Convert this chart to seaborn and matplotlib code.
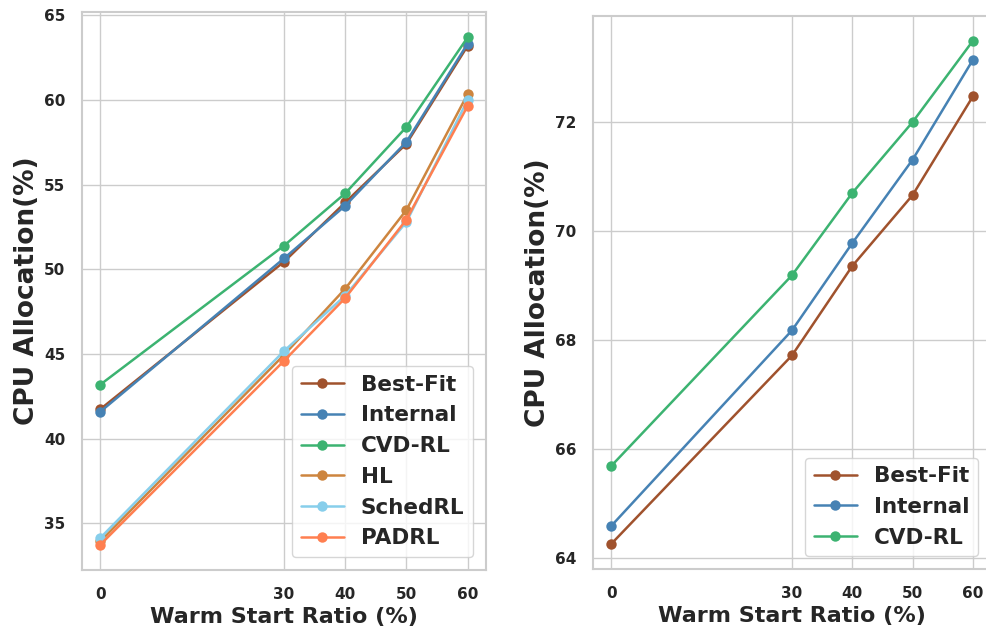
import matplotlib
matplotlib.use("Agg")
import matplotlib.pyplot as plt
import seaborn as sns
import pandas as pd

ratios = [0, 30, 40, 50, 60]

left_methods = ["Best-Fit", "Internal", "CVD-RL", "HL", "SchedRL", "PADRL"]
left_best_fit = [41.75, 50.45, 53.95, 57.42, 63.2]
left_internal = [41.6, 50.65, 53.76, 57.53, 63.33]
left_cvd_rl = [43.2, 51.4, 54.49, 58.41, 63.7]
left_hl = [33.95, 44.95, 48.86, 53.51, 60.35]
left_schedrl = [34.15, 45.18, 48.45, 52.8, 60.0]
left_padrl = [33.75, 44.6, 48.31, 52.94, 59.65]

right_methods = ["Best-Fit", "Internal", "CVD-RL"]
right_best_fit = [64.26, 67.72, 69.36, 70.66, 72.47]
right_internal = [64.59, 68.18, 69.78, 71.31, 73.14]
right_cvd_rl = [65.69, 69.19, 70.70, 72.0, 73.49]

colors = {
    "Best-Fit": "#a0522d",
    "Internal": "#4682b4",
    "CVD-RL": "#3cb371",
    "HL": "#cd853f",
    "SchedRL": "#87ceeb",
    "PADRL": "#ff7f50",
}

def make_df(methods, series):
    rows = []
    for m, vals in zip(methods, series):
        for x, y in zip(ratios, vals):
            rows.append({"ratio": x, "value": y, "method": m})
    return pd.DataFrame(rows)

df_left = make_df(left_methods, [left_best_fit, left_internal, left_cvd_rl,
                                 left_hl, left_schedrl, left_padrl])
df_right = make_df(right_methods, [right_best_fit, right_internal, right_cvd_rl])

sns.set_theme(style="whitegrid")
plt.rcParams["font.family"] = ["DejaVu Sans"]

fig = plt.figure(figsize=(9.87, 6.35), dpi=100)
ax1 = fig.add_axes([0.0831, 0.1024, 0.4093, 0.8787])
ax2 = fig.add_axes([0.6008, 0.1035, 0.4032, 0.8718])

for ax, df, methods in [(ax1, df_left, left_methods), (ax2, df_right, right_methods)]:
    sns.lineplot(data=df, x="ratio", y="value", hue="method", hue_order=methods,
                 palette=colors, marker="o", markersize=7.5, markeredgewidth=0,
                 linewidth=1.8, ax=ax, sort=False)
    ax.set_xticks(ratios)
    ax.set_xlabel("Warm Start Ratio (%)", fontsize=16, fontweight="bold", labelpad=4)
    ax.set_ylabel("CPU Allocation(%)", fontsize=19, fontweight="bold", labelpad=3)
    ax.tick_params(axis="both", labelsize=11, pad=6)
    for lab in ax.get_xticklabels() + ax.get_yticklabels():
        lab.set_fontweight("bold")
    for s in ax.spines.values():
        s.set_color("#cccccc")
        s.set_linewidth(1.5)
    ax.legend(loc="lower right", prop={"weight": "bold", "size": 15.5},
              handlelength=2.0, borderaxespad=0.6)

ax2.set_yticks([64, 66, 68, 70, 72])

fig.savefig("out.png", dpi=100)
